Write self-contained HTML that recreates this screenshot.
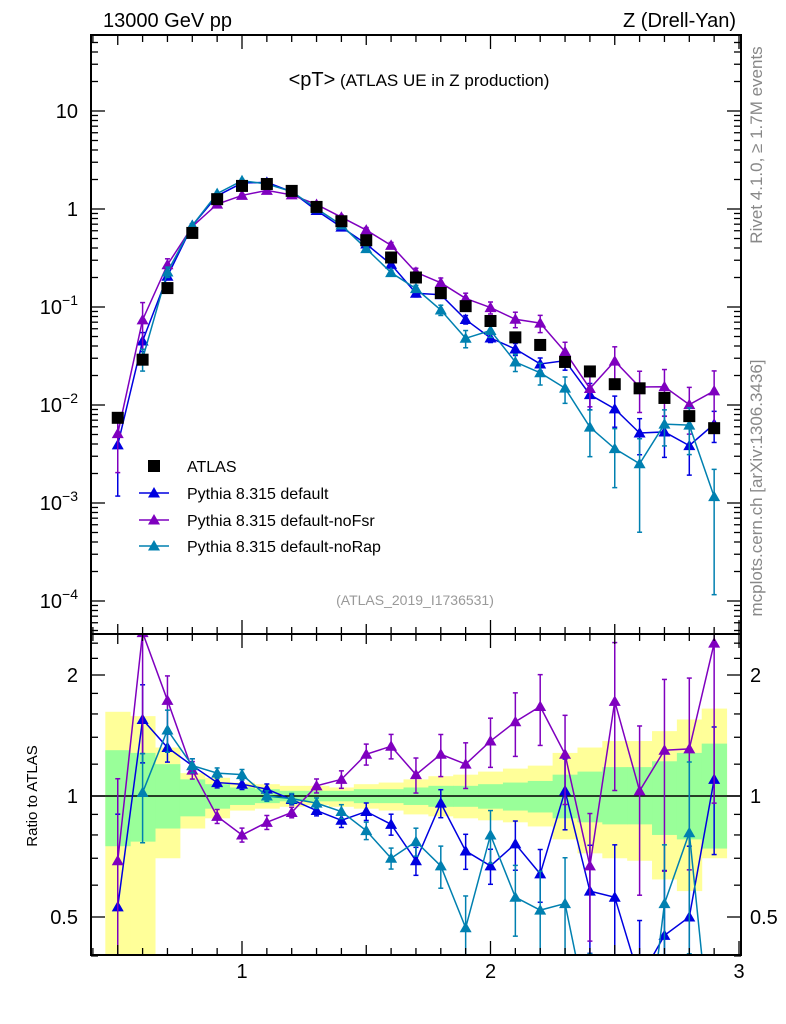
<!DOCTYPE html>
<html><head><meta charset="utf-8"><style>
html,body{margin:0;background:#fff;overflow:hidden;width:786px;height:1024px;}
svg{display:block;font-family:"Liberation Sans",sans-serif;}
</style></head><body>
<svg id="c" width="786" height="1024"></svg>
<script>
const xs = [0.5,0.6,0.7,0.8,0.9,1.0,1.1,1.2,1.3,1.4,1.5,1.6,1.7,1.8,1.9,2.0,2.1,2.2,2.3,2.4,2.5,2.6,2.7,2.8,2.9];
const atlas = [0.0074,0.029,0.156,0.57,1.26,1.72,1.8,1.53,1.05,0.75,0.48,0.32,0.20,0.139,0.102,0.072,0.049,0.041,0.0275,0.022,0.0163,0.0148,0.0118,0.0077,0.0058];
const ratioDef = [0.53,1.55,1.32,1.19,1.08,1.07,1.04,0.98,0.92,0.87,0.915,0.85,0.69,0.96,0.73,0.67,0.76,0.64,1.03,0.58,0.56,0.35,0.45,0.50,1.1];
const ratioFsr = [0.69,2.55,1.73,1.16,0.89,0.80,0.86,0.91,1.06,1.1,1.27,1.33,1.13,1.27,1.2,1.37,1.53,1.67,1.27,0.67,1.72,1.03,1.30,1.31,2.4];
const ratioRap = [null,1.02,1.46,1.19,1.14,1.13,1.0,0.985,0.96,0.915,0.82,0.70,0.77,0.67,0.47,0.80,0.56,0.52,0.54,0.27,0.22,0.17,0.54,0.81,0.2];
const errDef = [0.7,0.22,0.08,0.04,0.03,0.03,0.03,0.03,0.03,0.04,0.05,0.06,0.08,0.08,0.1,0.1,0.14,0.15,0.2,0.3,0.35,0.4,0.45,0.5,0.35];
const errFsr = [0.6,0.5,0.15,0.05,0.04,0.04,0.04,0.03,0.04,0.05,0.06,0.07,0.1,0.12,0.13,0.14,0.18,0.2,0.25,0.35,0.4,0.45,0.5,0.5,0.6];
const errRap = [0,0.25,0.12,0.04,0.03,0.03,0.03,0.03,0.03,0.04,0.05,0.06,0.08,0.12,0.2,0.15,0.2,0.25,0.3,0.5,0.6,0.8,0.4,0.5,0.9];
const yelHi = [1.62,1.58,1.32,1.14,1.11,1.08,1.07,1.06,1.06,1.05,1.07,1.08,1.10,1.12,1.13,1.15,1.17,1.19,1.28,1.32,1.37,1.37,1.45,1.55,1.65];
const yelLo = [0.35,0.40,0.70,0.83,0.88,0.92,0.93,0.94,0.95,0.94,0.93,0.92,0.90,0.89,0.88,0.87,0.86,0.84,0.78,0.72,0.70,0.69,0.62,0.58,0.70];
const grnHi = [1.30,1.28,1.20,1.10,1.07,1.05,1.04,1.03,1.03,1.03,1.04,1.04,1.05,1.06,1.06,1.07,1.08,1.09,1.13,1.15,1.18,1.18,1.22,1.28,1.35];
const grnLo = [0.75,0.77,0.83,0.89,0.93,0.95,0.96,0.97,0.97,0.97,0.96,0.96,0.95,0.94,0.94,0.93,0.92,0.91,0.88,0.86,0.85,0.85,0.80,0.78,0.74];

const svg=document.getElementById('c');
const NS='http://www.w3.org/2000/svg';
function mk(tag,attrs,parent){const e=document.createElementNS(NS,tag);for(const k in attrs)e.setAttribute(k,attrs[k]);(parent||svg).appendChild(e);return e;}
const L=91,R=741,T=35,MB=634,RB=955;
const X=v=>242+(v-1)*248.5;
const YM=v=>209-Math.log10(v)*98;
const YR=v=>796-Math.log2(v)*121;
const clipM=mk('clipPath',{id:'cm'});mk('rect',{x:L,y:T,width:R-L,height:MB-T},clipM);
const clipR=mk('clipPath',{id:'cr'});mk('rect',{x:L,y:MB,width:R-L,height:RB-MB},clipR);

const bands=mk('g',{'clip-path':'url(#cr)'});


xs.forEach((x,i)=>{
  const r=mk('rect',{x:X(x-0.05),y:YR(yelHi[i]),width:X(x+0.05)-X(x-0.05)+0.5,height:YR(yelLo[i])-YR(yelHi[i]),fill:'#ffff99'},bands);
  
  
});
xs.forEach((x,i)=>{
  const r=mk('rect',{x:X(x-0.05),y:YR(grnHi[i]),width:X(x+0.05)-X(x-0.05)+0.5,height:YR(grnLo[i])-YR(grnHi[i]),fill:'#99ff99'},bands);
  
  
});
mk('line',{x1:L,x2:R,y1:YR(1),y2:YR(1),stroke:'#000','stroke-width':1.5});

const series=[
 {name:'default',col:'#0000e0',ratio:ratioDef,err:errDef},
 {name:'nofsr',col:'#7f00bf',ratio:ratioFsr,err:errFsr},
 {name:'norap',col:'#0080b0',ratio:ratioRap,err:errRap}];
function tri(g,x,y,col){const p=mk('polygon',{points:`${x},${y-6} ${x-6},${y+4.5} ${x+6},${y+4.5}`,fill:col},g);return p;}
series.forEach(s=>{
  [['m',YM,'cm'],['r',YR,'cr']].forEach(([k,Y,cl])=>{
    const g=mk('g',{'clip-path':`url(#${cl})`});
    
    
    const pts=[];
    xs.forEach((x,i)=>{
      if(s.ratio[i]==null)return;
      const v=k==='m'?s.ratio[i]*atlas[i]:s.ratio[i];
      const e=s.err[i];
      const hi=v*(1+e), lo=Math.max(v*(1-e),1e-9);
      mk('line',{x1:X(x),x2:X(x),y1:Y(hi),y2:Y(lo),stroke:s.col,'stroke-width':1.5},g);
      mk('line',{x1:X(x)-2.5,x2:X(x)+2.5,y1:Y(hi),y2:Y(hi),stroke:s.col,'stroke-width':1.5},g);
      mk('line',{x1:X(x)-2.5,x2:X(x)+2.5,y1:Y(lo),y2:Y(lo),stroke:s.col,'stroke-width':1.5},g);
      pts.push([X(x),Y(v)]);
    });
    mk('polyline',{points:pts.map(p=>p.join(',')).join(' '),fill:'none',stroke:s.col,'stroke-width':1.5},g);
    pts.forEach(p=>{const t=tri(g,p[0],p[1],s.col);});
  });
});
const ga=mk('g',{'clip-path':'url(#cm)'});


xs.forEach((x,i)=>{
  const r=mk('rect',{x:X(x)-6,y:YM(atlas[i])-6,width:12,height:12,fill:'#000'},ga);
  
  
});

mk('rect',{x:L,y:T,width:R-L,height:MB-T,fill:'none',stroke:'#000','stroke-width':2});
mk('rect',{x:L,y:MB,width:R-L,height:RB-MB,fill:'none',stroke:'#000','stroke-width':2});
for(let d=-5;d<=1;d++){for(let m=1;m<=9;m++){const v=m*Math.pow(10,d);const y=YM(v);if(y<T||y>MB)continue;const len=m===1?14:7;
 mk('line',{x1:L,x2:L+len,y1:y,y2:y,stroke:'#000','stroke-width':1.3});mk('line',{x1:R,x2:R-len,y1:y,y2:y,stroke:'#000','stroke-width':1.3});}}
[['10',1],['1',0]].forEach(([t,d])=>{const e=mk('text',{x:78,y:YM(Math.pow(10,d))+7,'font-size':20,'text-anchor':'end'});e.textContent=t;});
[-1,-2,-3,-4].forEach(d=>{const e=mk('text',{x:78,y:YM(Math.pow(10,d))+7,'font-size':20,'text-anchor':'end'});e.innerHTML='10<tspan dy="-9" font-size="14">'+'\u2212'+(-d)+'</tspan>';});
[0.4,0.5,0.6,0.7,0.8,0.9,1,1.2,1.4,1.6,1.8,2,2.2,2.4].forEach(v=>{const y=YR(v);const big=(v===0.5||v===1||v===2);const len=big?14:7;
 mk('line',{x1:L,x2:L+len,y1:y,y2:y,stroke:'#000','stroke-width':1.3});mk('line',{x1:R,x2:R-len,y1:y,y2:y,stroke:'#000','stroke-width':1.3});});
[['2',2],['1',1],['0.5',0.5]].forEach(([t,v])=>{[[78,'end'],[750,'start']].forEach(([x,a])=>{const e=mk('text',{x:x,y:YR(v)+7,'font-size':20,'text-anchor':a});e.textContent=t;});});
for(let i=4;i<=30;i++){const v=i/10;const x=X(v);if(x<L||x>R)continue;const len=(i%10===0)?14:(i%5===0?10:7);
 [[T,1],[MB,1],[MB,-1],[RB,-1]].forEach(([y0,s])=>mk('line',{x1:x,x2:x,y1:y0,y2:y0+s*len,stroke:'#000','stroke-width':1.3}));}
[1,2,3].forEach(v=>{const e=mk('text',{x:X(v),y:978,'font-size':20,'text-anchor':'middle'});e.textContent=v;});

function txt(t,attrs,name){const e=mk('text',attrs);e.textContent=t;return e;}
txt('13000 GeV pp',{x:103,y:27,'font-size':20},'energy-label');
txt('Z (Drell-Yan)',{x:736,y:27,'font-size':20,'text-anchor':'end'},'process-label');
const tt=mk('text',{x:419,y:86,'text-anchor':'middle','font-size':17});tt.innerHTML='<tspan font-size="20">&lt;pT&gt;</tspan> (ATLAS UE in Z production)';

txt('(ATLAS_2019_I1736531)',{x:415,y:605,'font-size':14,fill:'#999','text-anchor':'middle'},'analysis-id');
txt('Rivet 4.1.0, \u2265 1.7M events',{x:0,y:0,'font-size':17,fill:'#888',transform:'translate(762,145) rotate(-90)','text-anchor':'middle'},'rivet-label');
txt('mcplots.cern.ch [arXiv:1306.3436]',{x:0,y:0,'font-size':17,fill:'#888',transform:'translate(762,488) rotate(-90)','text-anchor':'middle'},'mcplots-label');
txt('Ratio to ATLAS',{x:0,y:0,'font-size':15,transform:'translate(37,796) rotate(-90)','text-anchor':'middle'},'y-axis-title');
const lg=mk('g',{});
mk('rect',{x:148,y:460,width:12,height:12,fill:'#000'},lg);
txt('ATLAS',{x:187,y:472,'font-size':16},'legend-entry-atlas');
const leg=[['Pythia 8.315 default','#0000e0',493],['Pythia 8.315 default-noFsr','#7f00bf',520],['Pythia 8.315 default-noRap','#0080b0',546]];
leg.forEach(([t,c,y])=>{mk('line',{x1:139,x2:169,y1:y,y2:y,stroke:c,'stroke-width':1.5},lg);tri(lg,154,y,c);txt(t,{x:187,y:y+6,'font-size':16},'legend-entry');});
</script>
</body></html>
